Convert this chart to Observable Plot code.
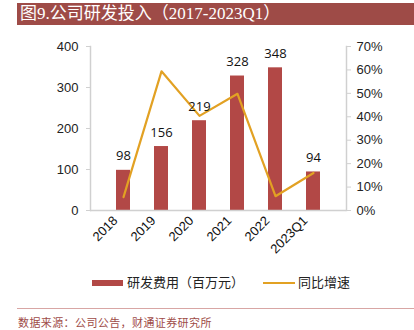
<!DOCTYPE html>
<html>
<head>
<meta charset="utf-8">
<script src="https://cdn.jsdelivr.net/npm/d3@7"></script>
<script src="https://cdn.jsdelivr.net/npm/@observablehq/plot@0.6"></script>
<style>
  body { margin: 0; width: 414px; height: 330px; background: #fff; position: relative; overflow: hidden; font-family: "Liberation Sans", "Noto Sans CJK SC", sans-serif; }
  #title { position: absolute; left: 17px; top: 3px; width: 397px; height: 22px; background: #9E4B47; color: #fff;
    font-family: "Liberation Serif", "Noto Sans CJK SC", serif; font-size: 17px; line-height: 22px; padding-left: 3px; box-sizing: border-box; white-space: nowrap; }
  #chart { position: absolute; left: 0; top: 0; }
  #legend { position: absolute; top: 274px; left: 0; width: 414px; height: 18px; font-size: 13px; color: #222; }
  .sw { position: absolute; }
  #sep { position: absolute; left: 17px; top: 308px; width: 397px; height: 1px; background: #D8A6A4; }
  #source { position: absolute; left: 18px; top: 314px; font-size: 11px; color: #9E4B47; font-family: "Liberation Serif", "Noto Sans CJK SC", serif; letter-spacing: 0.4px; white-space: nowrap; }
</style>
</head>
<body>
<div id="title">图9.公司研发投入（2017-2023Q1）</div>
<div id="chart"></div>
<div id="legend">
  <div class="sw" style="left:92px;top:6px;width:31px;height:6px;background:#B24846"></div>
  <div class="sw" style="left:127px;top:0px;line-height:18px;white-space:nowrap">研发费用（百万元）</div>
  <div class="sw" style="left:263px;top:8px;width:32px;height:2px;background:#E2A123"></div>
  <div class="sw" style="left:298px;top:0px;line-height:18px;white-space:nowrap">同比增速</div>
</div>
<div id="sep"></div>
<div id="source">数据来源：公司公告，财通证券研究所</div>
<script>
const categories = ["2018", "2019", "2020", "2021", "2022", "2023Q1"];
const rdExpense = [98, 156, 219, 328, 348, 94];
const yoyGrowth = [5.7, 59.4, 40.4, 49.8, 6.1, 16.0];
const leftTicks = [0, 100, 200, 300, 400];
const rightTicks = [0, 10, 20, 30, 40, 50, 60, 70];

const LEFT_MAX = 400, RIGHT_MAX = 70;
const toLeft = p => p / RIGHT_MAX * LEFT_MAX;

const rows = categories.map((c, i) => ({cat: c, value: rdExpense[i], growth: toLeft(yoyGrowth[i])}));

const axisColor = "#D0D0D0";
const chart = Plot.plot({
  width: 414,
  height: 270,
  marginLeft: 90,
  marginRight: 68,
  marginTop: 46,
  marginBottom: 60,
  style: {fontFamily: "Liberation Sans, sans-serif", fontSize: "13px", color: "#222", background: "transparent"},
  x: {domain: categories, padding: 0.64, label: null},
  y: {domain: [0, LEFT_MAX], label: null},
  marks: [
    Plot.barY(rows, {x: "cat", y: "value", fill: "#B24846"}),
    Plot.line(rows, {x: "cat", y: "growth", stroke: "#E2A123", strokeWidth: 2.2}),
    Plot.text(rows, {x: "cat", y: "value", text: d => String(d.value), dy: -14, fontSize: 13, fill: "#111", fontFamily: "Open Sans, Liberation Sans, sans-serif"}),
    Plot.ruleY([0], {stroke: axisColor, strokeWidth: 1.5}),
    Plot.frame({anchor: "left", stroke: axisColor, strokeWidth: 1.5}),
    Plot.frame({anchor: "right", stroke: axisColor, strokeWidth: 1.5}),
    Plot.axisY(leftTicks, {anchor: "left", tickSize: 4, stroke: axisColor, tickPadding: 8, label: null, fontSize: 13}),
    Plot.axisY(rightTicks.map(toLeft), {anchor: "right", tickSize: 4, stroke: axisColor, tickPadding: 6, label: null, fontSize: 13, tickFormat: d => Math.round(d / LEFT_MAX * RIGHT_MAX) + "%"}),
    Plot.axisX(categories, {anchor: "bottom", tickSize: 0, tickRotate: -45, tickPadding: 8, dx: -8, dy: 0, label: null, fontSize: 13, fill: "#111"})
  ]
});
document.getElementById("chart").appendChild(chart);
</script>
</body>
</html>
